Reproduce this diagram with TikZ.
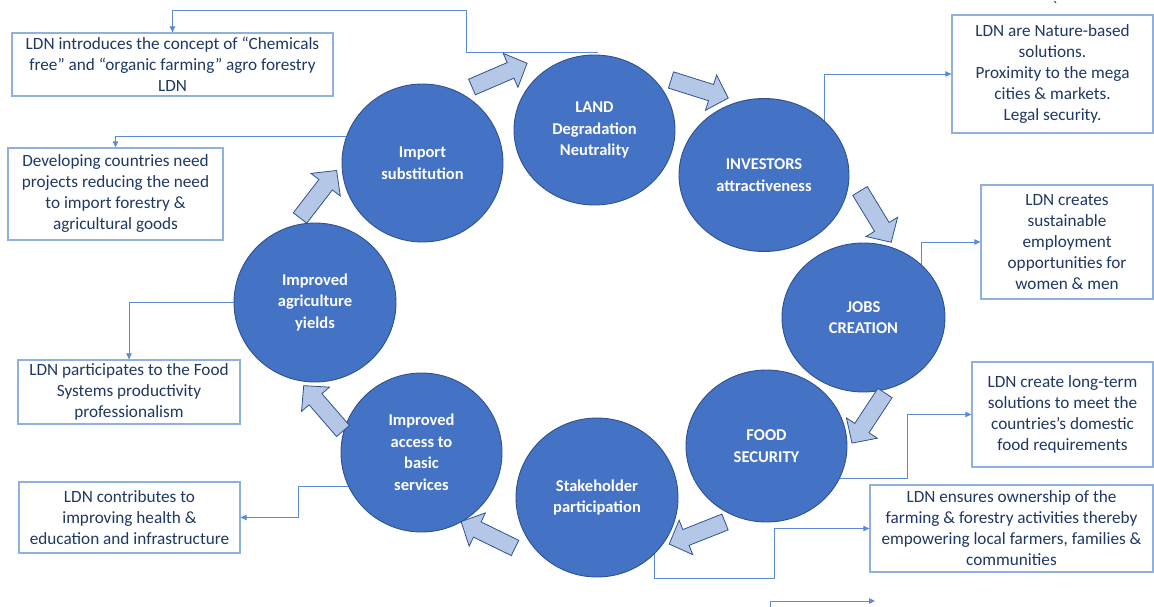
\documentclass[tikz,border=0pt]{standalone}
\usepackage{fontspec}
\setmainfont{Carlito}
\usetikzlibrary{shapes.geometric,calc,arrows.meta}

\definecolor{discfill}{HTML}{4472C4}
\definecolor{discline}{HTML}{2F528F}
\definecolor{flowfill}{HTML}{B4C7E7}
\definecolor{boxline}{HTML}{8EB1E0}
\definecolor{linkline}{HTML}{5B8BD6}
\definecolor{boxtext}{HTML}{1F3864}

\tikzset{
  cyclenode/.style={ellipse, draw=discline, line width=0.9pt, fill=discfill,
    text=white, font=\bfseries\fontsize{16.5}{21.5}\selectfont, align=center, inner sep=0pt},
  notebox/.style={rectangle, draw=boxline, line width=1.3pt, fill=white,
    text=boxtext, font=\fontsize{17.2}{21}\selectfont, align=center, inner sep=0pt},
  conn/.style={draw=linkline, line width=0.8pt, -{Triangle[length=6pt,width=5.5pt]}},
  pics/flowarrow/.style={code={
    \draw[draw=discline, line width=0.8pt, fill=flowfill, line join=miter]
      (0,-8.5) -- (42,-8.5) -- (42,-18.5) -- (60,0) -- (42,18.5) -- (42,8.5) -- (0,8.5) -- cycle;}}
}

\begin{document}
\begin{tikzpicture}[x=1pt,y=1pt]
\useasboundingbox (0,0) rectangle (1154,-607);

% explanation boxes
\node[notebox, minimum width=321pt, minimum height=63pt] (box1) at (172.5,-64.5)
  {LDN introduces the concept of “Chemicals\\free” and “organic farming” agro forestry\\LDN};
\node[notebox, minimum width=215pt, minimum height=92pt] (box2) at (115.5,-194)
  {Developing countries need\\projects reducing the need\\to import forestry \&\\agricultural goods};
\node[notebox, minimum width=201pt, minimum height=118pt] (box3) at (1052.5,-74)
  {LDN are Nature-based\\solutions.\\Proximity to the mega\\cities \& markets.\\Legal security.};
\node[notebox, minimum width=172pt, minimum height=114pt] (box4) at (1067,-242)
  {LDN creates\\sustainable\\employment\\opportunities for\\women \& men};
\node[notebox, minimum width=181pt, minimum height=105pt] (box5) at (1062.5,-414.5)
  {LDN create long-term\\solutions to meet the\\countries’s domestic\\food requirements};
\node[notebox, minimum width=283pt, minimum height=87pt] (box6) at (1011.5,-528.5)
  {LDN ensures ownership of the\\farming \& forestry activities thereby\\empowering local farmers, families \&\\communities};
\node[notebox, minimum width=222pt, minimum height=64pt] (box7) at (129,-392)
  {LDN participates to the Food\\Systems productivity\\professionalism};
\node[notebox, minimum width=221pt, minimum height=71pt] (box8) at (129.5,-517.5)
  {LDN contributes to\\improving health \&\\education and infrastructure};

\node[text=boxtext, font=\fontsize{16}{16}\selectfont, inner sep=0pt] (tick) at (1055,-7) {\textasciigrave};

% cycle positions (placed as coordinates first so connectors can sit beneath the discs)
\coordinate (landc) at (594.5,-130);
\coordinate (investorsc) at (764,-175);
\coordinate (jobsc) at (863.5,-317.5);
\coordinate (foodc) at (766.5,-446);
\coordinate (stakec) at (597,-497.5);
\coordinate (accessc) at (421.5,-452.5);
\coordinate (agric) at (315,-302.5);
\coordinate (importc) at (422.5,-163);

% connectors from the cycle to the boxes
\draw[conn] ($(landc)+(3,78)$) -| ($(box1.north)+(293.5,22)$) -| (box1.north);
\draw[conn] ($(importc)+(0,27)$) -| (box2.north);
\draw[conn] ($(investorsc)+(60,0)$) |- (box3.west);
\draw[conn] ($(jobsc)+(58,0)$) |- (box4.west);
\draw[conn] ($(foodc)+(0,-32)$) -| ($(box5.west)+(-64,0)$) -- (box5.west);
\draw[conn] ($(stakec)+(57,0)$) -- ($(stakec)+(57,-81)$) -| ($(box6.west)+(-95,0)$) -- (box6.west);
\draw[conn] (agric) -| (box7.north);
\draw[conn] ($(accessc)+(0,-34)$) -| ($(box8.east)+(58,0)$) -- (box8.east);

% loose connector along the bottom edge
\coordinate (loosefoot) at (770,-607);
\coordinate (loosetip) at (875,-601);
\draw[conn] (loosefoot) |- (loosetip);

% the cycle
\node[cyclenode, minimum width=161pt, minimum height=150pt] (land) at (landc) {LAND\\Degradation\\Neutrality};
\node[cyclenode, minimum width=170pt, minimum height=153pt] (investors) at (investorsc) {INVESTORS\\attractiveness};
\node[cyclenode, minimum width=163pt, minimum height=149pt] (jobs) at (jobsc) {JOBS\\CREATION};
\node[cyclenode, minimum width=161pt, minimum height=152pt] (food) at (foodc) {FOOD\\SECURITY};
\node[cyclenode, minimum width=162pt, minimum height=159pt] (stake) at (stakec) {Stakeholder\\participation};
\node[cyclenode, minimum width=161pt, minimum height=159pt] (access) at (accessc) {Improved\\access to\\basic\\services};
\node[cyclenode, minimum width=162pt, minimum height=159pt] (agri) at (agric) {Improved\\agriculture\\yields};
\node[cyclenode, minimum width=161pt, minimum height=158pt] (import) at (importc) {Import\\substitution};

% block arrows between the discs
\pic[rotate=23.3] at (472,-87) {flowarrow};
\pic[rotate=-17.5] at (671,-80) {flowarrow};
\pic[rotate=-58.7] at (860,-191) {flowarrow};
\pic[rotate=-123.4] at (885,-393) {flowarrow};
\pic[rotate=-158.4] at (725,-522) {flowarrow};
\pic[rotate=153.9] at (515,-548) {flowarrow};
\pic[rotate=130.9] at (343,-431) {flowarrow};
\pic[rotate=52.4] at (300,-218) {flowarrow};
\end{tikzpicture}
\end{document}
